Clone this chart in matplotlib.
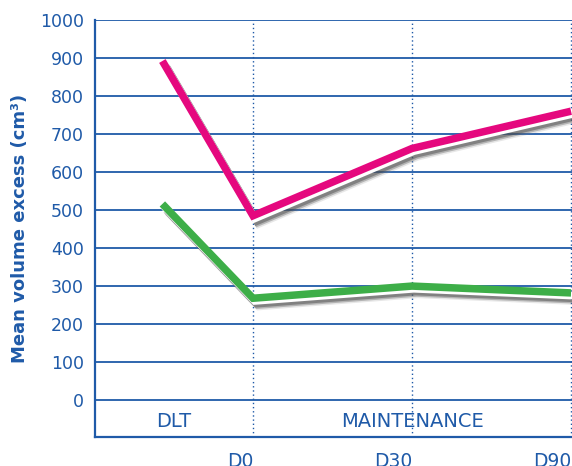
import matplotlib.pyplot as plt
import matplotlib.patheffects as pe

# data
phases = ['DLT', 'D0', 'D30', 'D90']
x_pos = [-0.57, 0, 1, 2]
pink_values = [892, 485, 662, 760]
green_values = [516, 268, 300, 282]
day_labels = ['D0', 'D30', 'D90']
y_ticks = list(range(0, 1001, 100))

blue = '#1f5aa8'
pink = '#e5087e'
green = '#3dae48'

plt.rcParams['font.family'] = ['DejaVu Sans']

fig = plt.figure(figsize=(5.72, 4.66), dpi=100)
ax = fig.add_axes([0.166, 0.0622, 0.834, 0.895])

ax.set_xlim(-0.994, 2.006)
ax.set_ylim(-97, 1000)

# grid lines
for v in y_ticks:
    ax.axhline(v, color=blue, lw=1.3, zorder=1)
for xv in [0, 1, 2]:
    ax.axvline(xv, color=blue, lw=1.0, ls=(0, (1, 2)), zorder=1)

# soft drop shadow with a white rim, like the reference
shadow = [pe.SimpleLineShadow(offset=(4.0, -6.0), shadow_color='#888888', alpha=0.2),
          pe.SimpleLineShadow(offset=(3.4, -5.0), shadow_color='#555555', alpha=0.35),
          pe.SimpleLineShadow(offset=(2.8, -4.0), shadow_color='#444444', alpha=0.45),
          pe.Stroke(linewidth=5.4, foreground='white', offset=(1.3, -2.0)),
          pe.Normal()]
ax.plot(x_pos, pink_values, color=pink, lw=5.4, solid_capstyle='butt',
        solid_joinstyle='miter', path_effects=shadow, zorder=3)
ax.plot(x_pos, green_values, color=green, lw=5.4, solid_capstyle='butt',
        solid_joinstyle='miter', path_effects=shadow, zorder=3)

for s in ['top', 'right']:
    ax.spines[s].set_visible(False)
for s in ['left', 'bottom']:
    ax.spines[s].set_color(blue)
    ax.spines[s].set_linewidth(1.6)

ax.set_yticks(y_ticks)
ax.set_yticklabels([str(v) for v in y_ticks])
ax.tick_params(axis='y', length=0, pad=8, labelsize=12.5, labelcolor=blue)

ax.set_xticks([0, 1, 2])
ax.set_xticklabels(day_labels, ha='right')
ax.tick_params(axis='x', length=0, pad=11, labelsize=13.5, labelcolor=blue)

ax.text(-0.5, -55, 'DLT', ha='center', va='center', color=blue, fontsize=14)
ax.text(1.0, -55, 'MAINTENANCE', ha='center', va='center', color=blue, fontsize=14)

ax.set_ylabel('Mean volume excess (cm³)', color=blue, fontsize=13,
              fontweight='bold', labelpad=8)

fig.savefig('out.png', dpi=100)
